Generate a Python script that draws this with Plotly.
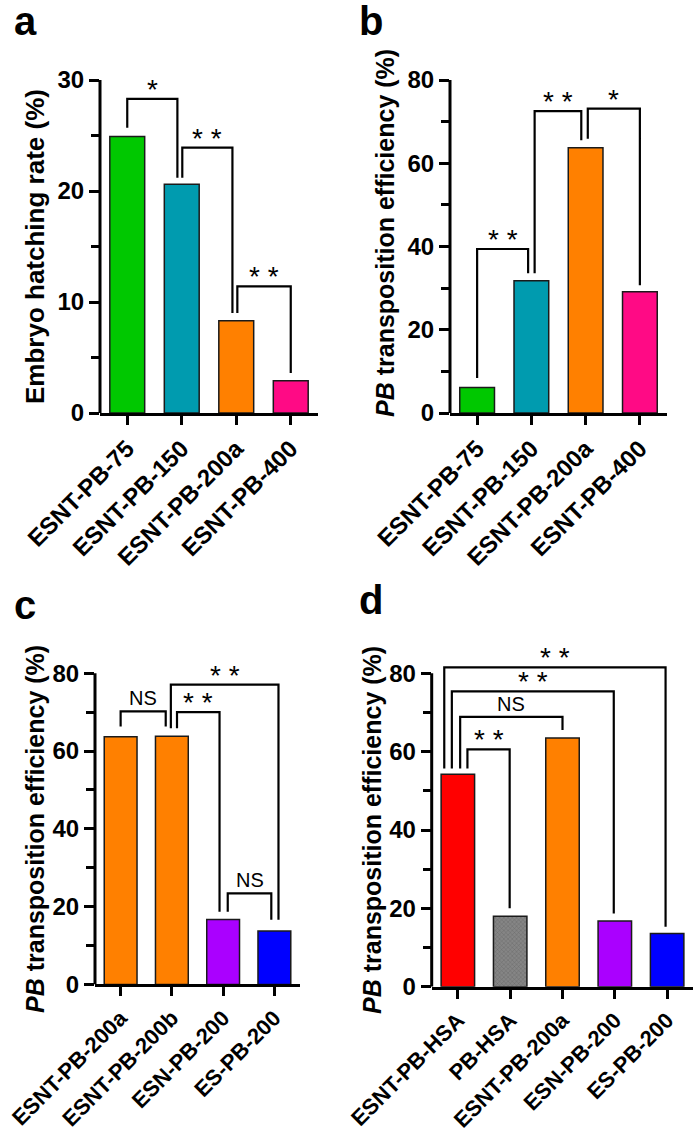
import plotly.graph_objects as go

# ---------------- data ----------------
cats_a = ["ESNT-PB-75", "ESNT-PB-150", "ESNT-PB-200a", "ESNT-PB-400"]
vals_a = [24.9, 20.6, 8.3, 2.9]
cats_b = ["ESNT-PB-75", "ESNT-PB-150", "ESNT-PB-200a", "ESNT-PB-400"]
vals_b = [6.1, 31.8, 63.7, 29.1]
cats_c = ["ESNT-PB-200a", "ESNT-PB-200b", "ESN-PB-200", "ES-PB-200"]
vals_c = [63.7, 63.8, 16.7, 13.7]
cats_d = ["ESNT-PB-HSA", "PB-HSA", "ESNT-PB-200a", "ESN-PB-200", "ES-PB-200"]
vals_d = [54.2, 18.0, 63.5, 16.8, 13.6]

# significance brackets: (left bar, right bar, top, left-leg bottom, right-leg bottom, label, left offset, right offset)
brackets_a = [(0, 1, 28.3, 25.7, 21.2, "*", 0.0, -0.08),
              (1, 2, 23.9, 21.2, 9.0, "* *", 0.01, -0.07),
              (2, 3, 11.4, 9.0, 3.6, "* *", 0.02, 0.0)]
brackets_b = [(0, 1, 39.4, 8.4, 33.6, "* *", 0.0, -0.06),
              (1, 2, 72.5, 33.6, 65.5, "* *", 0.06, -0.08),
              (2, 3, 73.1, 65.9, 30.7, "*", 0.04, 0.0)]
brackets_c = [(0, 1, 70.2, 66.3, 66.3, "NS", 0.0, -0.12),
              (1, 2, 70.0, 65.9, 18.7, "* *", 0.10, -0.07),
              (1, 3, 77.1, 65.9, 16.6, "* *", -0.02, 0.08),
              (2, 3, 23.4, 18.7, 16.6, "NS", 0.09, -0.06)]
brackets_d = [(0, 4, 81.5, 55.7, 15.3, "* *", -0.26, -0.03),
              (0, 3, 75.4, 55.7, 18.7, "* *", -0.115, -0.02),
              (0, 2, 68.9, 55.7, 65.5, "NS", 0.044, 0.0),
              (0, 1, 60.6, 55.7, 20.0, "* *", 0.183, -0.01)]

GREEN, TEAL, ORANGE, PINK = "#00C800", "#009BAF", "#FF8000", "#FF0A85"
RED, GRAY, PURPLE, BLUE = "#FF0000", "#858585", "#AA00FF", "#0000FF"

W, H = 697, 1137
FONT = "Liberation Sans, Arial, sans-serif"

panels = [
    dict(letter="a", cats=cats_a, vals=vals_a, colors=[GREEN, TEAL, ORANGE, PINK], ymax=30, dtick=10,
         minor=5, brackets=brackets_a, xpx=(100, 318), ypx=(413, 80), tsize=26, csize=24,
         title="<b>Embryo hatching rate (%)</b>", title_xy=(35, 247), letter_xy=(12, -3)),
    dict(letter="b", cats=cats_b, vals=vals_b, colors=[GREEN, TEAL, ORANGE, PINK], ymax=80, dtick=20,
         minor=10, brackets=brackets_b, xpx=(450, 667), ypx=(413, 80), tsize=25, csize=24,
         title="<b><i>PB</i> transposition efficiency (%)</b>", title_xy=(385, 233), letter_xy=(357, -3)),
    dict(letter="c", cats=cats_c, vals=vals_c, colors=[ORANGE, ORANGE, PURPLE, BLUE], ymax=80, dtick=20,
         minor=10, brackets=brackets_c, xpx=(95, 300), ypx=(984.4, 673.3), tsize=25, csize=22,
         title="<b><i>PB</i> transposition efficiency (%)</b>", title_xy=(35, 829), letter_xy=(12, 581)),
    dict(letter="d", cats=cats_d, vals=vals_d, colors=[RED, GRAY, ORANGE, PURPLE, BLUE], ymax=80, dtick=20,
         minor=10, brackets=brackets_d, xpx=(431.7, 693.3), ypx=(986.7, 673.3), tsize=25, csize=22,
         title="<b><i>PB</i> transposition efficiency (%)</b>", title_xy=(372, 830), letter_xy=(357, 576)),
]

fig = go.Figure()
shapes = []
annotations = []
layout = {}

for i, p in enumerate(panels, start=1):
    xa = "x" if i == 1 else f"x{i}"
    ya = "y" if i == 1 else f"y{i}"
    n = len(p["cats"])
    patt = ["x" if c == GRAY else "" for c in p["colors"]]
    fig.add_trace(go.Bar(
        x=list(range(n)), y=p["vals"], xaxis=xa, yaxis=ya, width=0.64,
        marker=dict(color=p["colors"], line=dict(color="#1a1a1a", width=1.5),
                    pattern=dict(shape=patt, fgcolor="#6c6c6c", size=3, solidity=0.25)),
        showlegend=False, hoverinfo="skip"))

    y0px, ytpx = p["ypx"]
    ppu = (y0px - ytpx) / p["ymax"]
    ext = p["ymax"] * 1.1
    top_px = y0px - ext * ppu
    xdom = [p["xpx"][0] / W, p["xpx"][1] / W]
    ydom = [1 - y0px / H, 1 - top_px / H]

    layout["xaxis" if i == 1 else f"xaxis{i}"] = dict(
        domain=xdom, anchor=ya, range=[-0.5, n - 0.5], automargin=False,
        tickvals=list(range(n)), ticktext=p["cats"], tickangle=-45, ticklabeloverflow="allow",
        showline=True, linewidth=3, linecolor="black",
        ticks="outside", ticklen=9, tickwidth=3, tickcolor="black",
        tickfont=dict(family=FONT, size=p["csize"], color="black", weight="bold"),
        showgrid=False, zeroline=False, fixedrange=True)
    layout["yaxis" if i == 1 else f"yaxis{i}"] = dict(
        domain=ydom, anchor=xa, range=[0, ext], automargin=False,
        tickvals=list(range(0, p["ymax"] + 1, p["dtick"])), ticklabeloverflow="allow",
        showline=False, ticks="outside", ticklen=10, tickwidth=3, tickcolor="black",
        minor=dict(tickvals=list(range(p["minor"], p["ymax"], p["dtick"])), ticks="outside",
                   ticklen=8, tickwidth=3, tickcolor="black"),
        tickfont=dict(family=FONT, size=24, color="black", weight="bold"),
        showgrid=False, zeroline=False, fixedrange=True)

    # y axis line from 0 to the top labelled value
    shapes.append(dict(type="line", xref=f"{xa} domain", yref=ya, x0=0, x1=0, y0=0, y1=p["ymax"],
                       line=dict(color="black", width=3)))

    # significance brackets
    for (l, r, top, lb, rb, lab, lo, ro) in p["brackets"]:
        xl, xr = l + lo, r + ro
        shapes.append(dict(type="path", xref=xa, yref=ya,
                           path=f"M {xl},{lb} L {xl},{top} L {xr},{top} L {xr},{rb}",
                           line=dict(color="black", width=2.2)))
        is_ns = lab == "NS"
        annotations.append(dict(
            x=(xl + xr) / 2, y=top, xref=xa, yref=ya, text=lab, showarrow=False,
            yanchor="bottom", xanchor="center", yshift=0 if is_ns else -8,
            font=dict(family=FONT, size=20 if is_ns else 28, color="black")))

    # axis title
    tx, ty = p["title_xy"]
    annotations.append(dict(x=tx / W, y=1 - ty / H, xref="paper", yref="paper", text=p["title"],
                            textangle=-90, showarrow=False, xanchor="center", yanchor="middle",
                            font=dict(family=FONT, size=p["tsize"], color="black")))
    # panel letter
    lx, ly = p["letter_xy"]
    annotations.append(dict(x=lx / W, y=1 - ly / H, xref="paper", yref="paper",
                            text=f"<b>{p['letter']}</b>", showarrow=False,
                            xanchor="left", yanchor="top",
                            font=dict(family=FONT, size=40, color="black")))

fig.update_layout(
    width=W, height=H, margin=dict(l=0, r=0, t=0, b=0, autoexpand=False),
    paper_bgcolor="white", plot_bgcolor="white", bargap=0.36,
    shapes=shapes, annotations=annotations, **layout)

fig.write_html("out.html", config={"displayModeBar": False},
               post_script="document.body.style.margin='0px';")
